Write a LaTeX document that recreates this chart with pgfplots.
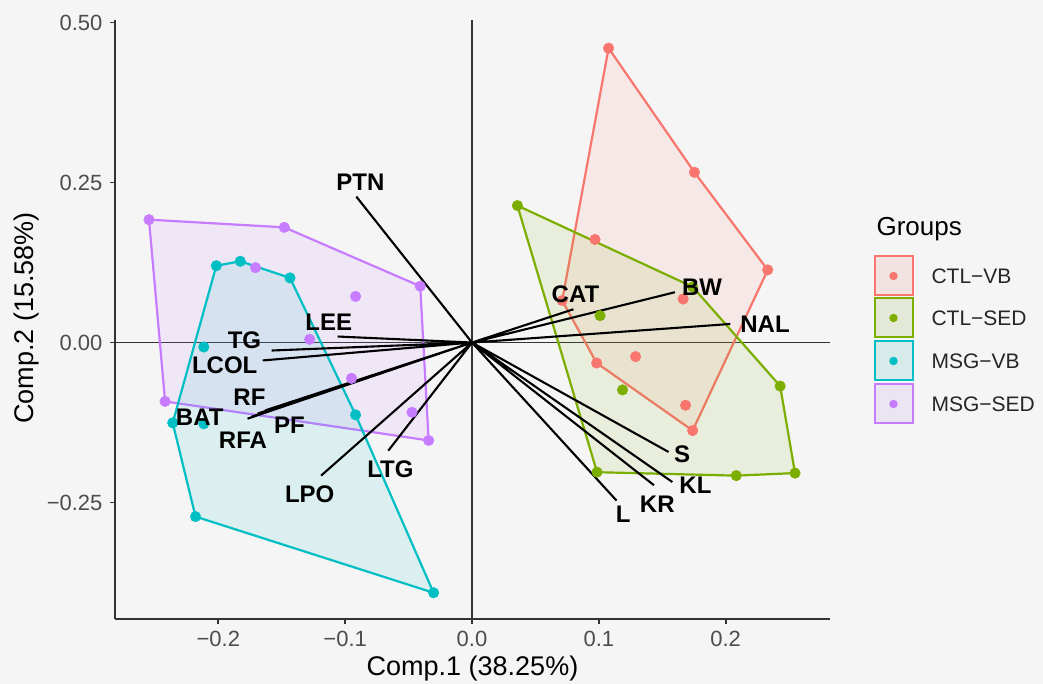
\documentclass[border=0pt]{standalone}
\usepackage{fontspec}
\setmainfont{Liberation Sans}
\usepackage{pgfplots}
\pgfplotsset{compat=1.18}
\definecolor{cred}{HTML}{F8766D}
\definecolor{cgreen}{HTML}{7CAE00}
\definecolor{cteal}{HTML}{00BFC4}
\definecolor{cpurple}{HTML}{C77CFF}
\definecolor{bg}{HTML}{F5F5F5}
\definecolor{tickgray}{HTML}{4D4D4D}
\definecolor{axisgray}{HTML}{333333}

\pgfplotstableread{
x y
-0.2547 0.192
-0.148 0.180
-0.1707 0.117
-0.0408 0.088
-0.0918 0.072
-0.128 0.005
-0.095 -0.056
-0.0473 -0.109
-0.0342 -0.153
-0.242 -0.092
}\msgsed
\pgfplotstableread{
x y
-0.2016 0.120
-0.1827 0.127
-0.1435 0.101
-0.2115 -0.007
-0.0918 -0.113
-0.236 -0.1255
-0.2115 -0.127
-0.218 -0.272
-0.0303 -0.391
}\msgvb
\pgfplotstableread{
x y
0.1077 0.460
0.1754 0.266
0.2332 0.1135
0.097 0.161
0.1665 0.068
0.0711 0.0656
0.0983 -0.032
0.129 -0.022
0.1684 -0.098
0.174 -0.1375
}\ctlvb
\pgfplotstableread{
x y
0.0358 0.214
0.101 0.042
0.1187 -0.074
0.243 -0.068
0.2547 -0.204
0.2084 -0.208
0.0986 -0.2026
0.174 0.087
}\ctlsed
\pgfplotstableread{
x y label
-0.088 0.250 PTN
-0.113 0.031 LEE
-0.1794 0.0042 TG
-0.195 -0.036 LCOL
-0.1755 -0.0855 RF
-0.2147 -0.1167 BAT
-0.1806 -0.153 RFA
-0.144 -0.1297 PF
-0.128 -0.2364 LPO
-0.0643 -0.1973 LTG
0.0816 0.076 CAT
0.1814 0.0864 BW
0.2311 0.0292 NAL
0.1657 -0.174 S
0.1762 -0.2234 KL
0.1461 -0.252 KR
0.1192 -0.2677 L
}\labels

\begin{document}
\begin{tikzpicture}[x=1pt,y=1pt]
\fill[bg] (0,0) rectangle (1043,684);
\path[use as bounding box] (0,0) rectangle (1043,684);
\begin{axis}[
  at={(115pt,65pt)}, anchor=south west, scale only axis,
  width=715pt, height=599pt,
  xmin=-0.2815, xmax=0.2823, ymin=-0.432, ymax=0.504,
  axis x line*=bottom, axis y line*=left,
  axis line style={axisgray, line width=1.8pt, -},
  xtick={-0.2,-0.1,0,0.1,0.2},
  xticklabels={−0.2,−0.1,0.0,0.1,0.2},
  ytick={-0.25,0,0.25,0.5},
  yticklabels={−0.25,0.00,0.25,0.50},
  tick align=outside, major tick length=5pt,
  tick style={axisgray, line width=1.8pt},
  ticklabel style={font=\fontsize{22}{22}\selectfont, text=tickgray},
  xticklabel style={yshift=-4pt},
  yticklabel style={xshift=-4pt},
  clip=false,
]
% reference lines
\addplot[axisgray, line width=1.8pt] coordinates {(0,-0.432) (0,0.504)};
\addplot[axisgray, line width=1.8pt] coordinates {(-0.2815,0) (0.2823,0)};
% hulls
\addplot[draw=cpurple, line width=2.2pt, fill=cpurple, fill opacity=0.12, draw opacity=1] coordinates {(-0.2547,0.192) (-0.148,0.180) (-0.0408,0.088) (-0.0342,-0.153) (-0.242,-0.092)} -- cycle;
\addplot[draw=cteal, line width=2.2pt, fill=cteal, fill opacity=0.1, draw opacity=1] coordinates {(-0.2016,0.120) (-0.1827,0.127) (-0.1435,0.101) (-0.0918,-0.113) (-0.0303,-0.391) (-0.218,-0.272) (-0.236,-0.1255)} -- cycle;
\addplot[draw=cred, line width=2.2pt, fill=cred, fill opacity=0.1, draw opacity=1] coordinates {(0.1077,0.460) (0.1754,0.266) (0.2332,0.1135) (0.174,-0.1375) (0.0983,-0.032) (0.0711,0.0656)} -- cycle;
\addplot[draw=cgreen, line width=2.2pt, fill=cgreen, fill opacity=0.1, draw opacity=1] coordinates {(0.0358,0.214) (0.174,0.087) (0.243,-0.068) (0.2547,-0.204) (0.2084,-0.208) (0.0986,-0.2026)} -- cycle;
% points
\addplot[only marks, mark=*, mark size=5.3pt, cpurple, mark options={draw=none, fill=cpurple}] table {\msgsed};
\addplot[only marks, mark=*, mark size=5.3pt, cteal, mark options={draw=none, fill=cteal}] table {\msgvb};
\addplot[only marks, mark=*, mark size=5.3pt, cred, mark options={draw=none, fill=cred}] table {\ctlvb};
\addplot[only marks, mark=*, mark size=5.3pt, cgreen, mark options={draw=none, fill=cgreen}] table {\ctlsed};
% loadings
\addplot[black, line width=2.1pt, unbounded coords=jump] coordinates {
(0,0) (-0.0912,0.228) (nan,nan)
(0,0) (-0.106,0.0094) (nan,nan)
(0,0) (-0.158,-0.0125) (nan,nan)
(0,0) (-0.165,-0.028) (nan,nan)
(0,0) (-0.163,-0.106) (nan,nan)
(0,0) (-0.169,-0.111) (nan,nan)
(0,0) (-0.174,-0.116) (nan,nan)
(0,0) (-0.177,-0.119) (nan,nan)
(0,0) (-0.119,-0.208) (nan,nan)
(0,0) (-0.066,-0.169) (nan,nan)
(0,0) (0.0800,0.052) (nan,nan)
(0,0) (0.160,0.0786) (nan,nan)
(0,0) (0.2037,0.029) (nan,nan)
(0,0) (0.155,-0.171) (nan,nan)
(0,0) (0.158,-0.218) (nan,nan)
(0,0) (0.1435,-0.223) (nan,nan)
(0,0) (0.114,-0.247)
};
% labels
\addplot[only marks, mark=none, nodes near coords, point meta=explicit symbolic,
  nodes near coords style={anchor=center, inner sep=0pt, text=black, font=\bfseries\fontsize{24}{24}\selectfont}]
  table[meta=label] {\labels};
\end{axis}
% axis titles
\node[anchor=base, font=\fontsize{27}{27}\selectfont, text=black] at (472.5,8) {Comp.1 (38.25\%)};
\node[anchor=base, rotate=90, font=\fontsize{27}{27}\selectfont, text=black] at (33,366) {Comp.2 (15.58\%)};
% legend
\node[anchor=base west, font=\fontsize{26}{26}\selectfont, text=black] at (873,448) {Groups};
\foreach \c/\t/\yc in {cred/CTL−VB/408, cgreen/CTL−SED/366, cteal/MSG−VB/323, cpurple/MSG−SED/280}{
  \fill[gray!12] (873.5,\yc-20) rectangle (913.5,\yc+20);
  \fill[\c, opacity=0.1] (873.5,\yc-20) rectangle (913.5,\yc+20);
  \draw[\c, line width=2pt] (874.5,\yc-19.5) rectangle (912.5,\yc+19.5);
  \fill[\c] (893.5,\yc) circle (4.2);
  \node[anchor=west, font=\fontsize{21}{21}\selectfont, text=black!85] at (928,\yc) {\t};
}
\end{tikzpicture}
\end{document}
